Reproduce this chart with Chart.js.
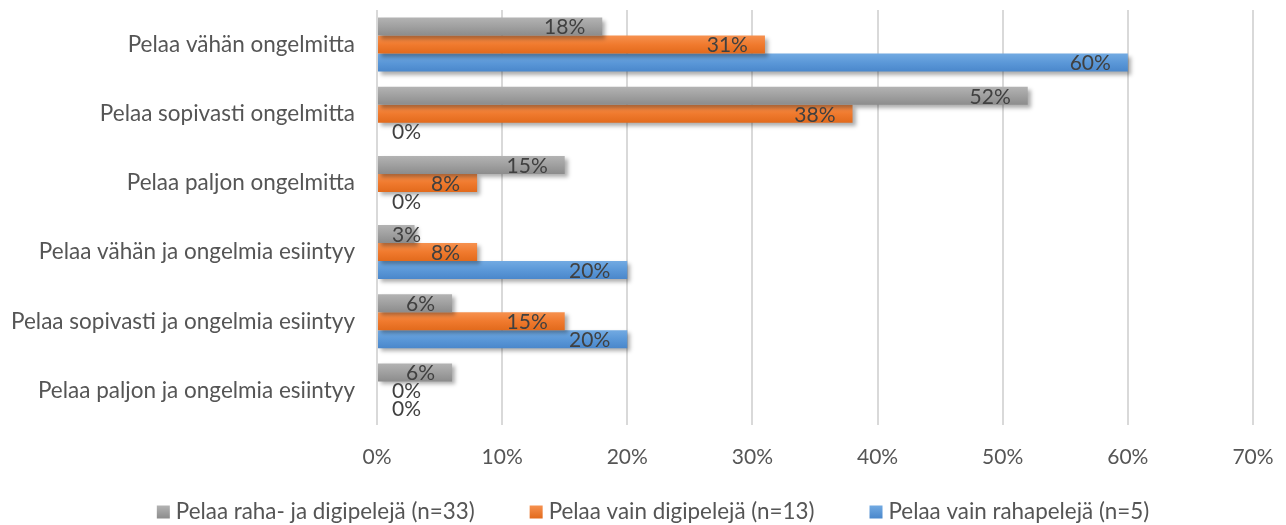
<!DOCTYPE html>
<html>
<head>
<meta charset="utf-8">
<script src="https://cdn.jsdelivr.net/npm/chart.js@4.4.1/dist/chart.umd.min.js"></script>
<style>
  html, body { margin: 0; padding: 0; background: #ffffff; }
  #wrap { width: 1286px; height: 525px; }
</style>
</head>
<body>
<div id="wrap"><canvas id="chart" width="1286" height="525"></canvas></div>
<script>
// Categories (top to bottom) and the three respondent groups
const categories = [
  'Pelaa vähän ongelmitta',
  'Pelaa sopivasti ongelmitta',
  'Pelaa paljon ongelmitta',
  'Pelaa vähän ja ongelmia esiintyy',
  'Pelaa sopivasti ja ongelmia esiintyy',
  'Pelaa paljon ja ongelmia esiintyy'
];
const seriesNames = [
  'Pelaa raha- ja digipelejä (n=33)',
  'Pelaa vain digipelejä (n=13)',
  'Pelaa vain rahapelejä (n=5)'
];
const rahaJaDigi = [18, 52, 15, 3, 6, 6];
const vainDigi   = [31, 38, 8, 8, 15, 0];
const vainRaha   = [60, 0, 0, 20, 20, 0];
const xTickValues = [0, 10, 20, 30, 40, 50, 60, 70];

const FONT = 'Lato, "Open Sans", "Noto Sans", sans-serif';
const CAT_PCT = 0.78;

// light-to-dark vertical shading for each series
const grayStops   = ['#b3b3b3', '#a0a0a0', '#8c8c8c'];
const orangeStops = ['#f6914f', '#f07a2e', '#e26a1c'];
const blueStops   = ['#72aae2', '#5b98d8', '#4a87cb'];

function shade(stops) {
  return (ctx) => {
    const chart = ctx.chart;
    const y = chart.scales && chart.scales.y;
    if (!y || ctx.type !== 'data') return stops[1];
    const step = y.getPixelForValue(1) - y.getPixelForValue(0);
    const t = step * CAT_PCT / 3;
    const top = y.getPixelForValue(ctx.dataIndex) + (ctx.datasetIndex - 1.5) * t;
    if (!isFinite(top)) return stops[1];
    const g = chart.ctx.createLinearGradient(0, top, 0, top + t);
    g.addColorStop(0, stops[0]);
    g.addColorStop(0.5, stops[1]);
    g.addColorStop(1, stops[2]);
    return g;
  };
}

// soft drop shadow under the bars
const barShadow = {
  id: 'barShadow',
  beforeDatasetsDraw(chart) {
    const c = chart.ctx;
    c.save();
    c.shadowColor = 'rgba(0,0,0,0.32)';
    c.shadowBlur = 4;
    c.shadowOffsetX = 3;
    c.shadowOffsetY = 3;
  },
  afterDatasetsDraw(chart) {
    chart.ctx.restore();
  }
};

// value labels just inside the end of each bar
const valueLabels = {
  id: 'valueLabels',
  afterDraw(chart) {
    const c = chart.ctx;
    const x0 = chart.scales.x.getPixelForValue(0);
    c.save();
    c.font = '21px ' + FONT;
    c.fillStyle = '#404040';
    c.textBaseline = 'middle';
    c.textAlign = 'left';
    chart.data.datasets.forEach((ds, di) => {
      chart.getDatasetMeta(di).data.forEach((bar, i) => {
        const txt = ds.data[i] + '%';
        const w = c.measureText(txt).width;
        const left = Math.max(x0 + 15, bar.x - 17 - w);
        c.fillText(txt, left, bar.y + 1);
      });
    });
    c.restore();
  }
};

// single-row legend along the bottom
const legendRow = {
  id: 'legendRow',
  afterDraw(chart) {
    const c = chart.ctx;
    c.save();
    c.font = '22.4px ' + FONT;
    c.textBaseline = 'middle';
    const box = 13, gapText = 6, gapItem = 55, yMid = 512;
    const items = chart.data.datasets.map(ds => ({
      label: ds.label, stops: ds.stops, w: c.measureText(ds.label).width
    }));
    const total = items.reduce((s, it) => s + box + gapText + it.w, 0) + gapItem * (items.length - 1);
    let x = chart.width / 2 + 10 - total / 2;
    items.forEach(it => {
      const g = c.createLinearGradient(0, yMid - box / 2, 0, yMid + box / 2);
      g.addColorStop(0, it.stops[0]);
      g.addColorStop(1, it.stops[2]);
      c.fillStyle = g;
      c.fillRect(x, yMid - box / 2, box, box);
      c.fillStyle = '#555555';
      c.fillText(it.label, x + box + gapText, yMid);
      x += box + gapText + it.w + gapItem;
    });
    c.restore();
  }
};

new Chart(document.getElementById('chart'), {
  type: 'bar',
  data: {
    labels: categories,
    datasets: [
      { label: seriesNames[0], data: rahaJaDigi, stops: grayStops,   backgroundColor: shade(grayStops) },
      { label: seriesNames[1], data: vainDigi,   stops: orangeStops, backgroundColor: shade(orangeStops) },
      { label: seriesNames[2], data: vainRaha,   stops: blueStops,   backgroundColor: shade(blueStops) }
    ]
  },
  options: {
    indexAxis: 'y',
    responsive: false,
    animation: false,
    devicePixelRatio: 1,
    layout: { padding: { top: 10, right: 33, left: 0, bottom: 0 } },
    datasets: { bar: { barPercentage: 1, categoryPercentage: CAT_PCT, borderWidth: 0 } },
    plugins: { legend: { display: false }, tooltip: { enabled: false } },
    scales: {
      x: {
        min: 0, max: 70,
        afterBuildTicks(scale) { scale.ticks = xTickValues.map(v => ({ value: v })); },
        afterFit(scale) { scale.height = 100; scale.paddingLeft = 0; scale.paddingRight = 0; },
        ticks: {
          callback: v => v + '%',
          color: '#555555',
          font: { family: FONT, size: 21 },
          padding: 20,
          maxRotation: 0
        },
        grid: { color: '#d9d9d9', lineWidth: 2, drawTicks: false },
        border: { display: false }
      },
      y: {
        afterFit(scale) { scale.width = 377; scale.paddingTop = 0; scale.paddingBottom = 0; },
        ticks: {
          color: '#555555',
          font: { family: FONT, size: 22.5 },
          padding: 22
        },
        grid: { display: false, drawTicks: false },
        border: { display: false }
      }
    }
  },
  plugins: [barShadow, valueLabels, legendRow]
});
</script>
</body>
</html>
